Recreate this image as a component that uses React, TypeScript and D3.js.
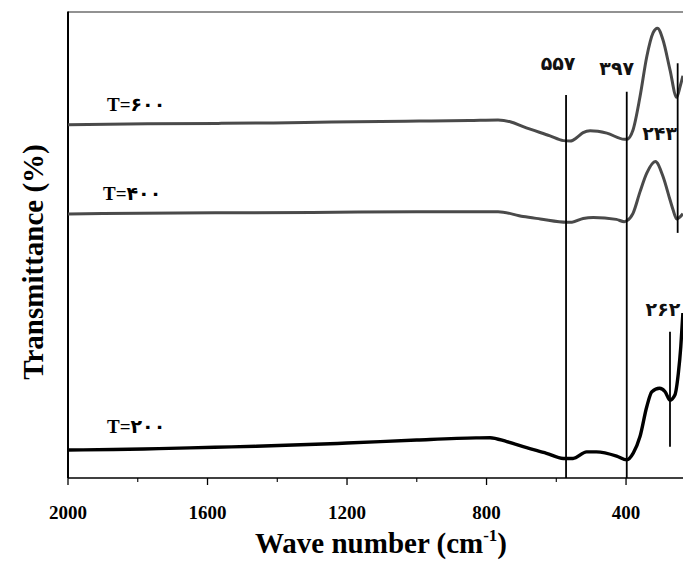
import React from 'react';
import * as d3 from 'd3';

// ---- data ----
const wave600 = [2000, 1770, 1560, 1411, 1245, 993, 850, 767, 730, 695, 618, 580, 560, 540, 523, 503, 455, 405, 398, 380, 360, 340.6, 322.6, 310, 294, 274, 255, 245, 237];
const trans600 = [75.8, 76.0, 76.1, 76.2, 76.4, 76.6, 76.7, 76.8, 76.4, 75.4, 73.4, 72.4, 72.3, 73.1, 74.1, 74.5, 74.0, 72.7, 72.7, 74.7, 81.8, 90.4, 95.5, 96.5, 94.0, 87.6, 81.7, 84.0, 86.3];

const wave400 = [2000, 1900, 1300, 1000, 767, 695, 646, 570, 555, 523, 494, 428, 405, 398, 380, 360, 340.6, 316, 294, 274, 265, 255, 237];
const trans400 = [56.65, 56.75, 57.0, 57.15, 57.15, 56.1, 55.6, 54.9, 54.9, 55.7, 55.9, 55.5, 55.0, 55.2, 56.8, 61.4, 65.4, 67.9, 64.7, 59.7, 57.5, 55.6, 56.7];

const wave200 = [2000, 1870, 1740, 1580, 1460, 1200, 1000, 830, 790, 742, 685, 628, 580, 552, 513, 485, 427, 398, 379, 360, 340.6, 326, 304, 288, 274, 260, 250, 243, 237];
const trans200 = [6.0, 6.1, 6.3, 6.6, 6.8, 7.5, 8.15, 8.6, 8.65, 7.8, 6.5, 5.3, 4.2, 4.2, 5.6, 5.6, 4.7, 3.9, 5.4, 8.9, 15.3, 18.5, 19.25, 18.5, 16.7, 17.8, 22.5, 28.2, 35.4];

const seriesNames = ['T=۶۰۰', 'T=۴۰۰', 'T=۲۰۰'];

const markerWave = [572, 398, 252, 274];
const markerLabels = ['۵۵۷', '۳۹۷', '۲۴۳', '۲۶۲'];
const markerTop = [82.2, 82.9, 89.0, 31.4];
const markerBottom = [0, 0, 52.6, 6.7];

const majorTicks = [2000, 1600, 1200, 800, 400];
const minorTicks = [1800, 1400, 1000, 600];

const xTitle = 'Wave number (cm';
const yTitle = 'Transmittance (%)';

// ---- layout ----
const W = 683, H = 561;
const left = 68, right = 683, top = 12, bottom = 478;

export default function App() {
  const x = d3.scaleLinear().domain([2000, 236.7]).range([left, right]);
  const y = d3.scaleLinear().domain([0, 100]).range([bottom, top]);

  const series = [
    { name: seriesNames[0], w: wave600, t: trans600, color: '#4a4a4a', sw: 3, lx: 107, ly: 14 },
    { name: seriesNames[1], w: wave400, t: trans400, color: '#4a4a4a', sw: 3, lx: 103, ly: 14 },
    { name: seriesNames[2], w: wave200, t: trans200, color: '#000000', sw: 3.4, lx: 107, ly: 17 },
  ];

  const line = d3
    .line<[number, number]>()
    .x((d) => x(d[0]))
    .y((d) => y(d[1]))
    .curve(d3.curveMonotoneX);

  // label placement offsets relative to marker line top
  const labelOff = [
    { dx: -8, dy: -25 },
    { dx: -10, dy: -17 },
    { dx: -18, dy: 77 },
    { dx: -7, dy: -16 },
  ];

  const serif = '"Liberation Serif", "Times New Roman", serif';
  const persian = '"Liberation Serif", "DejaVu Sans", serif';

  return (
    <svg width={W} height={H} style={{ position: 'absolute', left: 0, top: 0, background: '#fff' }}>
      <defs>
        <clipPath id="plotclip">
          <rect x={left} y={0} width={right - left} height={bottom} />
        </clipPath>
      </defs>
      <rect x={0} y={0} width={W} height={H} fill="#fff" />

      {/* frame */}
      <line x1={left} x2={right} y1={top} y2={top} stroke="#6e6e6e" strokeWidth={1.5} />
      <line x1={left} x2={left} y1={top - 0.5} y2={bottom} stroke="#000" strokeWidth={2} />
      <line x1={left} x2={right} y1={bottom} y2={bottom} stroke="#000" strokeWidth={1.5} />

      {/* ticks */}
      {majorTicks.map((t) => (
        <g key={'M' + t}>
          <line x1={x(t)} x2={x(t)} y1={bottom} y2={bottom + 7} stroke="#000" strokeWidth={1.3} />
          <text x={x(t)} y={bottom + 41} textAnchor="middle" fontFamily={serif} fontWeight="bold" fontSize={19}>
            {t}
          </text>
        </g>
      ))}
      {minorTicks.map((t) => (
        <line key={'m' + t} x1={x(t)} x2={x(t)} y1={bottom} y2={bottom + 4} stroke="#000" strokeWidth={1.1} />
      ))}

      {/* curves */}
      <g clipPath="url(#plotclip)">
        {series.map((s) => (
          <path
            key={s.name}
            d={line(s.w.map((w, i) => [w, s.t[i]] as [number, number])) || ''}
            fill="none"
            stroke={s.color}
            strokeWidth={s.sw}
            strokeLinejoin="round"
          />
        ))}
      </g>

      {/* series labels */}
      {series.map((s) => (
        <text
          key={'l' + s.name}
          x={s.lx}
          y={y(s.t[0]) - s.ly}
          fontFamily={persian}
          fontWeight="bold"
          fontSize={19}
          fill="#000"
        >
          {s.name}
        </text>
      ))}

      {/* marker lines */}
      {markerWave.map((m, i) => (
        <g key={'mk' + i}>
          <line x1={x(m)} x2={x(m)} y1={y(markerTop[i])} y2={y(markerBottom[i])} stroke="#000" strokeWidth={1.8} />
          <text
            x={x(m) + labelOff[i].dx}
            y={y(markerTop[i]) + labelOff[i].dy}
            textAnchor="middle"
            fontFamily={persian}
            fontWeight="bold"
            fontSize={19}
            fill="#111"
          >
            {markerLabels[i]}
          </text>
        </g>
      ))}

      {/* axis titles */}
      <text x={381} y={553} textAnchor="middle" fontFamily={serif} fontWeight="bold" fontSize={29}>
        {xTitle}
        <tspan fontSize={17} dy={-12}>-1</tspan>
        <tspan dy={12}>)</tspan>
      </text>
      <text
        transform={`translate(43, ${262}) rotate(-90)`}
        textAnchor="middle"
        fontFamily={serif}
        fontWeight="bold"
        fontSize={29}
      >
        {yTitle}
      </text>
    </svg>
  );
}
